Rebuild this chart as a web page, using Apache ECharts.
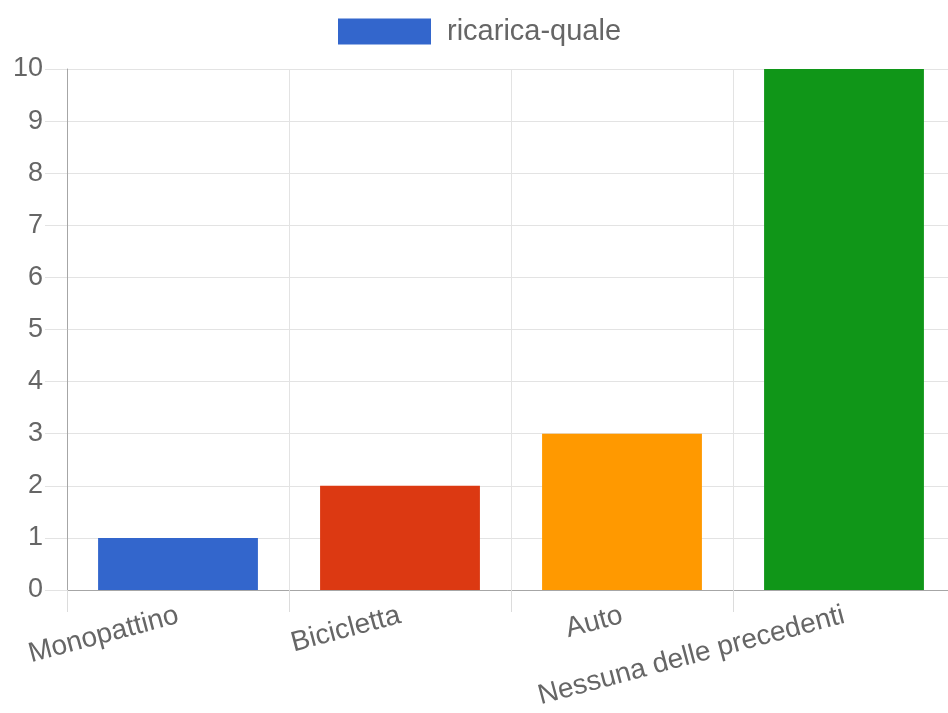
<!DOCTYPE html>
<html>
<head>
<meta charset="utf-8">
<script src="https://cdn.jsdelivr.net/npm/echarts@6/dist/echarts.min.js"></script>
<style>
html,body{margin:0;padding:0;background:#fff;}
#chart{width:948px;height:713px;}
</style>
</head>
<body>
<div id="chart"></div>
<script>
const categories = ["Monopattino", "Bicicletta", "Auto", "Nessuna delle precedenti"];
const values = [1, 2, 3, 10];
const barColors = ["#3366CC", "#DC3912", "#FF9900", "#109618"];
const seriesName = "ricarica-quale";
const yMin = 0, yMax = 10, yStep = 1;

const FONT = "'Liberation Sans', Arial, sans-serif";
const chart = echarts.init(document.getElementById('chart'), null, {renderer: 'canvas'});
chart.setOption({
  animation: false,
  textStyle: {fontFamily: FONT},
  legend: {
    data: [seriesName],
    top: 17,
    left: 338,
    padding: 0,
    icon: 'rect',
    itemWidth: 93,
    itemHeight: 26,
    itemGap: 10,
    textStyle: {fontSize: 29, color: '#666', fontFamily: FONT, padding: [2, 0, 0, 11]}
  },
  grid: {left: 67, width: 888, top: 69, bottom: 123, containLabel: false, outerBoundsMode: 'none'},
  xAxis: {
    type: 'category',
    data: categories,
    boundaryGap: true,
    axisLine: {show: true, lineStyle: {color: '#a6a6a6', width: 1}},
    axisTick: {show: true, length: 22, alignWithLabel: false, lineStyle: {color: '#dcdcdc'}},
    splitLine: {show: true, lineStyle: {color: '#e3e3e3', width: 1}},
    axisLabel: {rotate: 15, margin: 25, fontSize: 28, color: '#666', fontFamily: FONT, interval: 0}
  },
  yAxis: {
    type: 'value',
    min: yMin, max: yMax, interval: yStep,
    axisLine: {show: true, lineStyle: {color: '#a6a6a6', width: 1}},
    axisTick: {show: true, length: 22, lineStyle: {color: '#e3e3e3'}},
    splitLine: {show: true, lineStyle: {color: '#e3e3e3', width: 1}},
    axisLabel: {margin: 24, fontSize: 27, color: '#666', fontFamily: FONT, padding: [3, 0, 0, 0]}
  },
  series: [{
    name: seriesName,
    type: 'bar',
    barCategoryGap: '28%',
    itemStyle: {color: barColors[0]},
    data: values.map((v, i) => ({value: v, itemStyle: {color: barColors[i]}}))
  }]
});
</script>
</body>
</html>
